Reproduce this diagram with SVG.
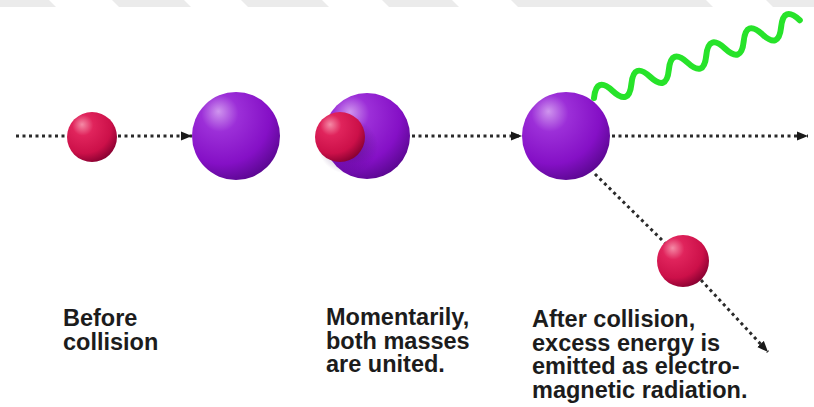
<svg xmlns="http://www.w3.org/2000/svg" width="814" height="407" viewBox="0 0 814 407">
<style>
.dot{fill:none;stroke:#2a2a2a;stroke-width:3;stroke-dasharray:3 3.5}
.lbl{font-family:"Liberation Sans",Arial,sans-serif;font-weight:bold;font-size:23.5px;fill:#1c1c1c}
.band{fill:#ebebeb}
</style>
<defs>
<radialGradient id="gPurple" cx="0.36" cy="0.3" r="0.75" fx="0.3" fy="0.22">
<stop offset="0" stop-color="#cf95ee"/>
<stop offset="0.28" stop-color="#9c2fd8"/>
<stop offset="0.72" stop-color="#8510c6"/>
<stop offset="1" stop-color="#5a0790"/>
</radialGradient>
<radialGradient id="gRed" cx="0.36" cy="0.3" r="0.75" fx="0.3" fy="0.25">
<stop offset="0" stop-color="#f58aa6"/>
<stop offset="0.28" stop-color="#e0245c"/>
<stop offset="0.72" stop-color="#cc1049"/>
<stop offset="1" stop-color="#860030"/>
</radialGradient>
<radialGradient id="gShade" cx="0.5" cy="0.5" r="0.5">
<stop offset="0" stop-color="#3a0560" stop-opacity="0.55"/>
<stop offset="1" stop-color="#3a0560" stop-opacity="0"/>
</radialGradient>
<marker id="arr" markerUnits="userSpaceOnUse" markerWidth="12" markerHeight="10" refX="11" refY="5" orient="auto">
<path d="M0,0.5 L11,5 L0,9.5 Z" fill="#1a1a1a"/>
</marker>
</defs>
<rect width="814" height="407" fill="#ffffff"/>
<g id="topband">
<polygon class="band" points="0,0 49,0 56,7 0,7"/>
<polygon class="band" points="112,0 184,0 191,7 119,7"/>
<polygon class="band" points="241,0 322,0 329,7 248,7"/>
<polygon class="band" points="382,0 452,0 459,7 389,7"/>
<polygon class="band" points="511,0 706,0 713,7 518,7"/>
<polygon class="band" points="766,0 814,0 814,7 773,7"/>
</g>
<g id="connectors">
<line class="dot" x1="16" y1="136" x2="67" y2="136"/>
<line class="dot" x1="118" y1="136" x2="192" y2="136" marker-end="url(#arr)"/>
<line class="dot" x1="412" y1="136" x2="522" y2="136" marker-end="url(#arr)"/>
<line class="dot" x1="612" y1="136" x2="808" y2="136" marker-end="url(#arr)"/>
<line class="dot" x1="595" y1="174" x2="666" y2="244"/>
<line class="dot" x1="701" y1="280" x2="768" y2="352" marker-end="url(#arr)"/>
</g>
<g id="wave">
<path d="M0,0 q10,-20 20,0 t20,0 t20,0 t20,0 t20,0 t20,0 t20,0 t20,0 t20,0 t20,0 t20,0" transform="translate(594,98) rotate(-20.7)" fill="none" stroke="#27e32a" stroke-width="6" stroke-linecap="round" stroke-linejoin="round"/>
</g>
<g id="before-red">
<circle cx="92" cy="137" r="25" fill="url(#gRed)"/>
</g>
<g id="before-purple">
<circle cx="236" cy="136" r="44" fill="url(#gPurple)"/>
</g>
<g id="united">
<circle cx="367" cy="136" r="43" fill="url(#gPurple)"/>
<ellipse cx="348" cy="146" rx="30" ry="28" fill="url(#gShade)"/>
<circle cx="340" cy="137" r="25" fill="url(#gRed)"/>
</g>
<g id="after-purple">
<circle cx="566" cy="136" r="44" fill="url(#gPurple)"/>
</g>
<g id="after-red">
<circle cx="683" cy="261" r="26" fill="url(#gRed)"/>
</g>
<g id="label-before">
<text class="lbl" x="63" y="326">Before<tspan x="63" dy="24">collision</tspan></text>
</g>
<g id="label-united">
<text class="lbl" x="326" y="325">Momentarily,<tspan x="326" dy="23.5">both masses</tspan><tspan x="326" dy="23.5">are united.</tspan></text>
</g>
<g id="label-after">
<text class="lbl" x="532" y="327">After collision,<tspan x="532" dy="23.5">excess energy is</tspan><tspan x="532" dy="23.5">emitted as electro-</tspan><tspan x="532" dy="23.5">magnetic radiation.</tspan></text>
</g>
</svg>
